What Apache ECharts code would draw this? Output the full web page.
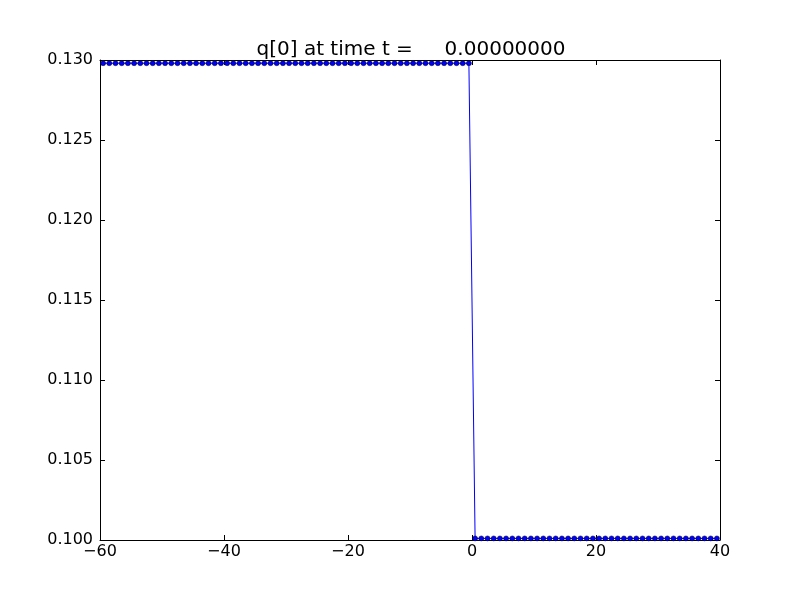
<!DOCTYPE html>
<html><head><meta charset="utf-8">
<script src="https://cdn.jsdelivr.net/npm/echarts@6/dist/echarts.min.js"></script>
<style>html,body{margin:0;padding:0;background:#fff}#c{width:800px;height:600px}</style>
</head><body><div id="c"></div>
<script>
const titleText = "q[0] at time t =     0.00000000";
const xValues = [
-59.5,-58.5,-57.5,-56.5,-55.5,-54.5,-53.5,-52.5,-51.5,-50.5,
-49.5,-48.5,-47.5,-46.5,-45.5,-44.5,-43.5,-42.5,-41.5,-40.5,
-39.5,-38.5,-37.5,-36.5,-35.5,-34.5,-33.5,-32.5,-31.5,-30.5,
-29.5,-28.5,-27.5,-26.5,-25.5,-24.5,-23.5,-22.5,-21.5,-20.5,
-19.5,-18.5,-17.5,-16.5,-15.5,-14.5,-13.5,-12.5,-11.5,-10.5,
-9.5,-8.5,-7.5,-6.5,-5.5,-4.5,-3.5,-2.5,-1.5,-0.5,
0.5,1.5,2.5,3.5,4.5,5.5,6.5,7.5,8.5,9.5,
10.5,11.5,12.5,13.5,14.5,15.5,16.5,17.5,18.5,19.5,
20.5,21.5,22.5,23.5,24.5,25.5,26.5,27.5,28.5,29.5,
30.5,31.5,32.5,33.5,34.5,35.5,36.5,37.5,38.5,39.5];
const qValues = [
0.1298,0.1298,0.1298,0.1298,0.1298,0.1298,0.1298,0.1298,0.1298,0.1298,
0.1298,0.1298,0.1298,0.1298,0.1298,0.1298,0.1298,0.1298,0.1298,0.1298,
0.1298,0.1298,0.1298,0.1298,0.1298,0.1298,0.1298,0.1298,0.1298,0.1298,
0.1298,0.1298,0.1298,0.1298,0.1298,0.1298,0.1298,0.1298,0.1298,0.1298,
0.1298,0.1298,0.1298,0.1298,0.1298,0.1298,0.1298,0.1298,0.1298,0.1298,
0.1298,0.1298,0.1298,0.1298,0.1298,0.1298,0.1298,0.1298,0.1298,0.1298,
0.1001,0.1001,0.1001,0.1001,0.1001,0.1001,0.1001,0.1001,0.1001,0.1001,
0.1001,0.1001,0.1001,0.1001,0.1001,0.1001,0.1001,0.1001,0.1001,0.1001,
0.1001,0.1001,0.1001,0.1001,0.1001,0.1001,0.1001,0.1001,0.1001,0.1001,
0.1001,0.1001,0.1001,0.1001,0.1001,0.1001,0.1001,0.1001,0.1001,0.1001];
const xTicks = [-60,-40,-20,0,20,40];
const yTicks = [0.100,0.105,0.110,0.115,0.120,0.125,0.130];

const data = xValues.map((x,i)=>[x,qValues[i]]);
const font = "DejaVu Sans";
const axLine = {show:true, onZero:false, lineStyle:{color:'#000', width:1}};
const tick = {show:true, inside:true, length:5, lineStyle:{color:'#000', width:1}};
const chart = echarts.init(document.getElementById('c'), null, {renderer:'canvas'});
chart.setOption({
  animation:false,
  backgroundColor:'#fff',
  title:{text:titleText, left:406, top:35, textAlign:'center',
    textStyle:{fontFamily:font, fontSize:20, fontWeight:'normal', color:'#000'}},
  grid:{left:100, right:80, top:60, bottom:60, containLabel:false},
  xAxis:[
    {type:'value', min:xTicks[0], max:xTicks[xTicks.length-1], interval:20, position:'bottom',
     axisLine:axLine, axisTick:tick, splitLine:{show:false},
     axisLabel:{margin:4, fontFamily:font, fontSize:16, color:'#000',
       formatter:v=>String(v).replace('-','\u2212')}},
    {type:'value', min:xTicks[0], max:xTicks[xTicks.length-1], interval:20, position:'top',
     axisLine:axLine, axisTick:tick, splitLine:{show:false}, axisLabel:{show:false}}
  ],
  yAxis:[
    {type:'value', min:yTicks[0], max:yTicks[yTicks.length-1], interval:0.005, position:'left',
     axisLine:axLine, axisTick:tick, splitLine:{show:false},
     axisLabel:{margin:7, fontFamily:font, fontSize:16, color:'#000',
       formatter:v=>v.toFixed(3)}},
    {type:'value', min:yTicks[0], max:yTicks[yTicks.length-1], interval:0.005, position:'right',
     axisLine:axLine, axisTick:tick, splitLine:{show:false}, axisLabel:{show:false}}
  ],
  series:[{
    type:'line', data:data, xAxisIndex:0, yAxisIndex:0,
    symbol:'circle', symbolSize:5, showSymbol:true,
    lineStyle:{color:'#0000ff', width:1},
    itemStyle:{color:'#0000ff', borderColor:'#000', borderWidth:0.5},
    clip:false
  }]
});
</script></body></html>
